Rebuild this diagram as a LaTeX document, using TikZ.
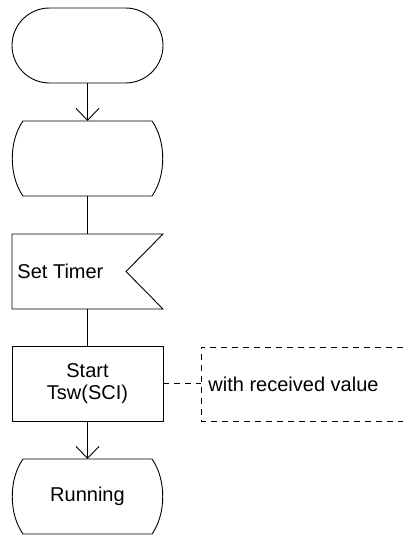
\documentclass[tikz,border=0pt]{standalone}
\usepackage{fontspec}
\setmainfont{Liberation Sans}
\usetikzlibrary{arrows.meta,calc}
\newcommand\drawstatebox[1]{%
  \draw ($(#1.north west)+(11,0)$) -- ($(#1.north east)+(-11,0)$)
    .. controls ($(#1.north east)+(3.3,20)$) and ($(#1.south east)+(3.3,-20)$) .. ($(#1.south east)+(-11,0)$)
    -- ($(#1.south west)+(11,0)$)
    .. controls ($(#1.south west)+(-3.3,-20)$) and ($(#1.north west)+(-3.3,20)$) .. cycle;}
\begin{document}
\begin{tikzpicture}[x=1pt,y=-1pt,line width=0.9pt,
  box/.style={minimum width=151pt,minimum height=75pt,inner sep=0pt,outer sep=0pt},
  lbl/.style={font=\fontsize{20}{22}\selectfont},
  arr/.style={-{Straight Barb[length=12pt,width=23pt,line width=0.9pt]}},
  cmtline/.style={dash pattern=on 6pt off 5pt}]
\useasboundingbox (0,0) rectangle (403,535);
% start terminal
\node[box,draw,rounded corners=37.5pt] (s1) at (87.5,45.5) {};
% state box
\node[box] (s2) at (87.5,158.5) {};
\drawstatebox{s2}
% set timer
\node[box] (timer) at (87.5,271.5) {};
\draw (timer.north west) -- (timer.north east) -- ($(timer.east)+(-37,0)$) -- (timer.south east) -- (timer.south west) -- cycle;
\node[lbl,anchor=west,inner sep=0pt] (timertxt) at ($(timer.west)+(5,0)$) {Set Timer};
% start tsw
\node[box,draw,lbl,align=center] (tsw) at (87.5,383.5) {Start\\Tsw(SCI)};
% running
\node[box,lbl] (run) at (87.5,496.5) {Running};
\drawstatebox{run}
% comment
\node[minimum width=202pt,minimum height=74pt,inner sep=0pt,outer sep=0pt] (cmt) at (302,384) {};
\draw[cmtline] (cmt.north east) -- (cmt.north west) -- (cmt.south west) -- (cmt.south east);
\node[lbl,anchor=west,inner sep=0pt] (cmttxt) at ($(cmt.west)+(7,0)$) {with received value};
\draw[cmtline] (tsw.east) -- (tsw.east -| cmt.west);
% connectors
\draw[arr] (s1) -- (s2);
\draw (s2) -- (timer);
\draw (timer) -- (tsw);
\draw[arr] (tsw) -- (run);
\end{tikzpicture}
\end{document}
